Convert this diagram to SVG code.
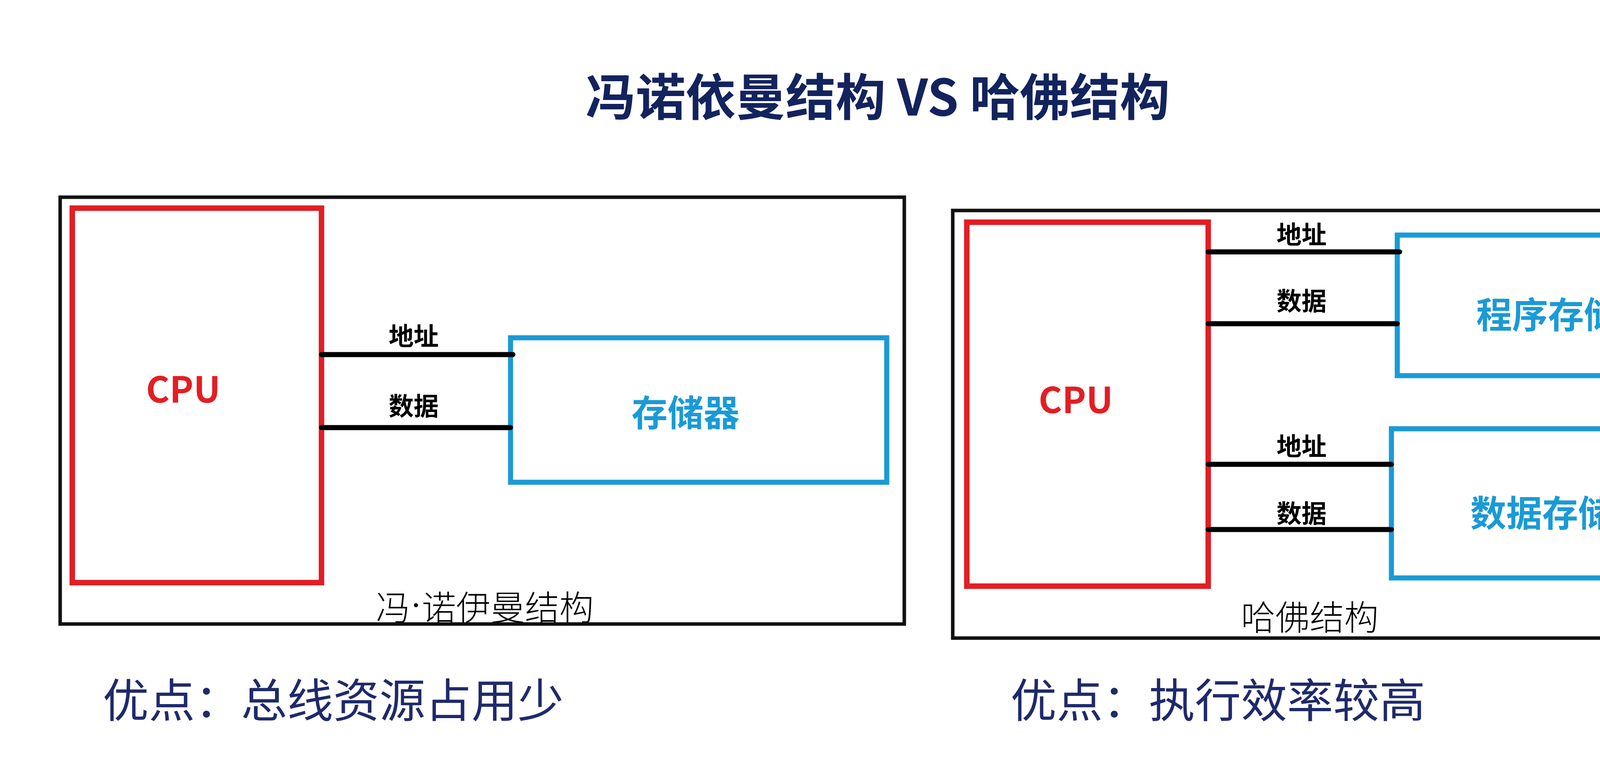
<svg xmlns="http://www.w3.org/2000/svg" width="4720" height="2000" viewBox="0 0 4720 2000">
<style>
.outer{fill:none;stroke:#111;stroke-width:9}
.cpu{fill:none;stroke:#e31e24;stroke-width:14}
.mem{fill:none;stroke:#1a9ad6;stroke-width:13}
.bus{stroke:#000;stroke-width:13;stroke-linecap:round}
text{font-family:"Noto Sans CJK SC","Liberation Sans",sans-serif;text-anchor:middle;dominant-baseline:central}
.cpuT{fill:#e31e24;font-weight:bold;font-size:92px}
.memT{fill:#1a9ad6;font-weight:bold;font-size:92px}
.lbl{fill:#000;font-weight:bold;font-size:64px}
.cap{fill:#000;font-size:88px;font-weight:300}
.dot{font-family:"Liberation Serif",serif}
.adv{fill:#1f2a6b;font-size:118px;text-anchor:start}
.title{fill:#13235e;font-weight:bold;font-size:128px}
</style>
<text class="title" x="2247" y="240">冯诺依曼结构 VS 哈佛结构</text>
<g id="left-panel"><rect class="outer" x="154" y="505" width="2161" height="1093"/><text class="cap" x="1241" y="1549">冯<tspan class="dot">·</tspan>诺伊曼结构</text></g>
<g id="left-cpu"><rect class="cpu" x="185" y="533" width="638" height="959"/><text class="cpuT" x="469" y="990">CPU</text></g>
<g id="left-mem"><rect class="mem" x="1307" y="865" width="963" height="370"/><text class="memT" x="1755" y="1050">存储器</text></g>
<g id="right-panel"><rect class="outer" x="2439" y="539" width="2109" height="1095"/><text class="cap" x="3353" y="1574">哈佛结构</text></g>
<g id="right-cpu"><rect class="cpu" x="2475" y="569" width="618" height="932"/><text class="cpuT" x="2754" y="1017">CPU</text></g>
<g id="prog-mem"><rect class="mem" x="3577" y="602" width="935" height="360"/><text class="memT" x="4009" y="799">程序存储器</text></g>
<g id="data-mem"><rect class="mem" x="3562" y="1098" width="947" height="382"/><text class="memT" x="3994" y="1307">数据存储器</text></g>
<g id="connectors">
<line class="bus" x1="823" y1="908" x2="1313" y2="908"/>
<line class="bus" x1="823" y1="1095" x2="1307" y2="1095"/>
<line class="bus" x1="3093" y1="645" x2="3583" y2="645"/>
<line class="bus" x1="3093" y1="829" x2="3577" y2="829"/>
<line class="bus" x1="3093" y1="1189" x2="3562" y2="1189"/>
<line class="bus" x1="3093" y1="1356" x2="3562" y2="1356"/>
<text class="lbl" x="1059" y="856">地址</text>
<text class="lbl" x="1059" y="1035">数据</text>
<text class="lbl" x="3332" y="596">地址</text>
<text class="lbl" x="3332" y="766">数据</text>
<text class="lbl" x="3332" y="1138">地址</text>
<text class="lbl" x="3332" y="1310">数据</text>
</g>
<text class="adv" x="263" y="1785">优点：总线资源占用少</text>
<text class="adv" x="2587" y="1785">优点：执行效率较高</text>
</svg>
